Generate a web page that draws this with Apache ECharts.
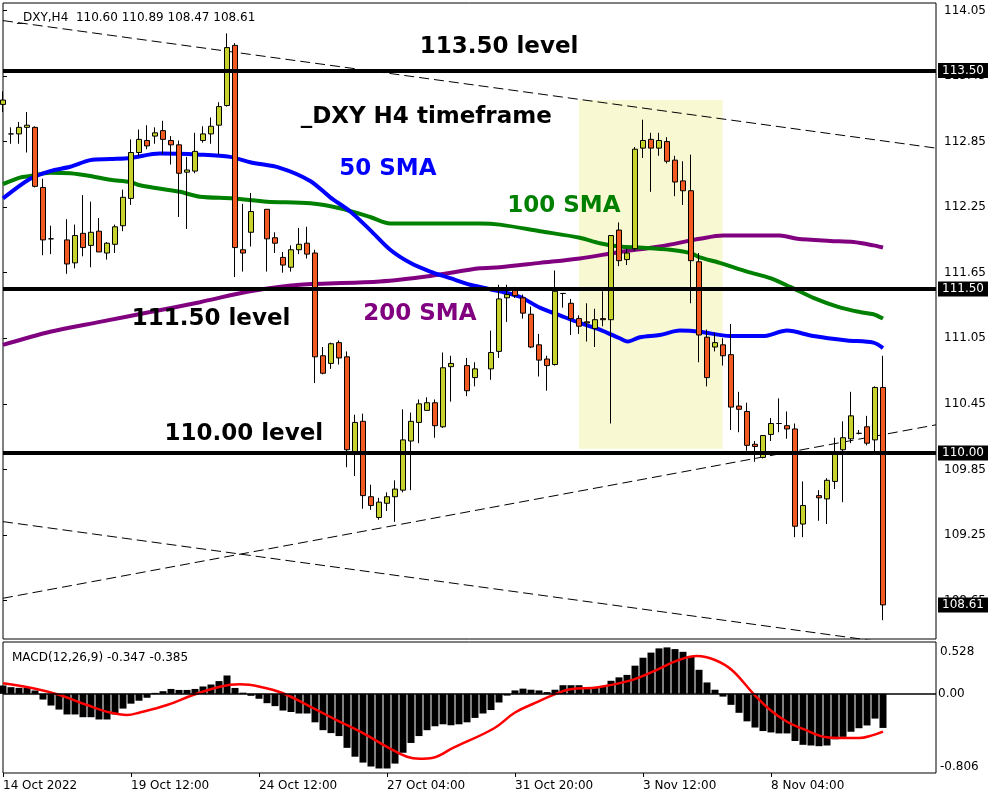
<!DOCTYPE html>
<html><head><meta charset="utf-8">
<script src="https://cdn.jsdelivr.net/npm/echarts/dist/echarts.min.js"></script>
<style>html,body{margin:0;padding:0;background:#fff}#c{width:1000px;height:800px}</style>
</head><body><div id="c"></div>
<script>
// ---- DATA ----
// H4 bars: [open, high, low, close]; null = no bar drawn at that slot
const ohlc = [
[113.19,113.31,113.12,113.23],[112.92,112.98,112.83,112.92],[112.92,113.03,112.83,112.98],[112.98,113.12,112.75,113.00],
[112.98,112.99,112.43,112.44],[112.43,112.51,111.81,111.95],[111.96,112.08,111.82,111.96],null,
[111.95,112.14,111.64,111.73],[111.74,112.09,111.69,111.99],[112.01,112.36,111.80,111.88],[111.90,112.30,111.70,112.02],
[112.03,112.15,111.84,111.84],[111.83,111.93,111.77,111.92],[111.91,112.09,111.83,112.07],[112.08,112.41,112.03,112.34],
[112.33,112.87,112.27,112.75],[112.75,112.96,112.72,112.87],[112.86,113.00,112.78,112.81],[112.90,112.98,112.83,112.93],
[112.95,113.04,112.74,112.87],[112.86,112.90,112.64,112.82],[112.82,112.86,112.16,112.56],[112.57,112.71,112.05,112.59],
[112.58,112.93,112.56,112.76],[112.86,112.99,112.84,112.92],[112.92,113.07,112.83,112.99],[113.00,113.21,112.73,113.17],
[113.18,113.84,113.17,113.71],[113.73,113.75,111.61,111.88],[111.86,112.28,111.66,111.83],[112.02,112.38,111.89,112.21],
null,[112.23,112.23,111.66,111.96],[111.97,112.02,111.83,111.92],[111.79,111.84,111.65,111.72],
[111.70,111.90,111.66,111.86],[111.86,112.06,111.82,111.91],[111.92,112.07,111.78,111.82],[111.83,111.86,110.64,110.88],
[110.89,110.97,110.72,110.73],[110.82,111.01,110.77,111.00],[111.01,111.03,110.81,110.87],[110.88,110.93,109.87,110.03],
[110.01,110.35,109.79,110.28],[110.29,110.36,109.49,109.61],[109.60,109.71,109.48,109.52],[109.41,109.59,109.39,109.55],
[109.54,109.64,109.47,109.60],[109.60,109.75,109.37,109.67],[109.66,110.40,109.64,110.12],[110.11,110.37,109.66,110.29],
[110.28,110.49,110.09,110.45],[110.39,110.51,110.39,110.46],[110.46,110.49,110.14,110.25],[110.24,110.92,110.23,110.78],
[110.79,110.89,110.47,110.82],null,[110.80,110.87,110.52,110.57],[110.69,110.83,110.61,110.77],
null,[110.77,111.12,110.67,110.92],[110.93,111.54,110.87,111.41],[111.42,111.54,111.20,111.45],
[111.49,111.52,111.42,111.44],[111.42,111.45,111.23,111.28],[111.27,111.34,110.96,110.97],[110.99,111.09,110.70,110.85],
[110.86,110.89,110.57,110.80],[110.81,111.67,110.80,111.48],[111.46,111.46,111.33,111.46],[111.37,111.41,111.08,111.23],
[111.23,111.26,111.09,111.16],[111.20,111.37,111.02,111.19],[111.14,111.32,110.97,111.22],[111.23,111.48,111.16,111.22],
[111.22,111.99,110.27,111.99],[112.04,112.11,111.71,111.76],[111.77,111.87,111.72,111.83],[111.87,112.80,111.85,112.78],
[112.79,113.05,112.70,112.86],[112.87,112.93,112.39,112.79],[112.79,112.93,112.72,112.86],[112.85,112.89,112.65,112.67],
[112.68,112.72,112.35,112.48],[112.49,112.67,112.27,112.40],[112.40,112.73,111.37,111.76],[111.75,111.83,110.83,111.08],
[111.06,111.13,110.61,110.69],[110.97,111.10,110.93,111.01],[110.99,111.05,110.80,110.89],[110.90,111.18,110.21,110.42],
[110.43,110.56,110.19,110.40],[110.38,110.46,110.02,110.07],[110.08,110.11,109.92,110.06],[109.96,110.16,109.95,110.16],
[110.17,110.32,110.11,110.27],[110.27,110.50,110.19,110.27],[110.25,110.38,110.13,110.22],[110.22,110.27,109.23,109.33],
[109.35,109.74,109.23,109.52],null,[109.61,109.66,109.38,109.59],[109.58,109.77,109.35,109.75],
[109.74,110.14,109.67,109.99],[110.03,110.29,109.55,110.14],[110.13,110.56,110.09,110.34],[110.18,110.21,110.17,110.18],
[110.24,110.34,110.07,110.09],[110.12,110.61,109.99,110.60],[110.60,110.89,108.47,108.61]
];
// moving averages: [bar index, value]
const sma50 = [[0,112.33],[3.4,112.51],[5.9,112.58],[8.4,112.62],[10.9,112.68],[13.4,112.69],[15.9,112.70],[19.6,112.74],[24.6,112.73],[28.4,112.71],[30.9,112.66],[34.6,112.61],[38.4,112.49],[40.9,112.34],[43.4,112.21],[45.9,112.04],[48.4,111.86],[50.9,111.74],[53.4,111.66],[55.9,111.60],[58.4,111.54],[62.1,111.48],[64.6,111.43],[67.1,111.33],[69.6,111.26],[72.1,111.19],[74.6,111.13],[77.1,111.05],[78.1,111.02],[79.6,111.06],[82.1,111.08],[84.6,111.12],[87.1,111.11],[90.9,111.07],[95,111.07],[98,111.12],[101.3,111.07],[105.5,111.03],[108.8,111.01],[110,110.96]];
const sma100 = [[0,112.46],[2.1,112.52],[3.4,112.535],[5.9,112.565],[8.4,112.56],[10.9,112.535],[13.4,112.50],[15.9,112.48],[17.1,112.45],[22.1,112.39],[24.6,112.345],[28.8,112.33],[33,112.30],[38.4,112.285],[42.1,112.24],[45.9,112.16],[48.4,112.10],[53.4,112.10],[59.6,112.10],[62.1,112.09],[67.1,112.03],[72.1,111.97],[74.6,111.92],[77.1,111.89],[79.6,111.88],[83.4,111.86],[85.9,111.83],[87.1,111.79],[89.6,111.74],[93,111.66],[95.9,111.60],[98.4,111.52],[101.3,111.42],[104.3,111.34],[107.1,111.29],[108.8,111.27],[110,111.23]];
const sma200 = [[0,110.99],[5.9,111.11],[12.1,111.20],[18.4,111.29],[24.6,111.38],[30.9,111.48],[37.1,111.54],[47.1,111.57],[53.4,111.62],[59.6,111.69],[62.1,111.70],[67.1,111.74],[72.1,111.78],[77.1,111.84],[82.1,111.89],[87.1,111.96],[90,111.99],[97.1,111.99],[99.3,111.96],[103.4,111.94],[106.3,111.93],[108.8,111.90],[110,111.88]];
// dashed trend lines: [bar index, price] end points
const trendUpper = [[0,113.957],[116.625,112.79]];
const trendRising = [[0,108.671],[116.625,110.258]];
const trendLower = [[0,109.372],[116.625,108.204]];
const levels = [113.50, 111.50, 110.00];
const lastPrice = 108.61;
const highlightBox = [[72, 113.23], [89.96, 110.04]];
// annotations: [bar index, price, text]
const notes = [[62,113.715,'113.50 level'],[52.9,113.075,'_DXY H4 timeframe'],[48.1,112.60,'50 SMA'],[70.1,112.26,'100 SMA'],[26,111.226,'111.50 level'],[52.1,111.272,'200 SMA'],[30.1,110.174,'110.00 level']];
// MACD histogram per bar
const macd = [0.085,0.068,0.061,0.061,0.034,-0.058,-0.119,-0.16,-0.21,-0.21,-0.238,-0.238,-0.261,-0.261,-0.21,-0.15,-0.10,-0.07,-0.04,0.01,
0.027,0.05,0.04,0.04,0.05,0.075,0.095,0.13,0.187,0.06,0.012,-0.02,-0.05,-0.095,-0.125,-0.17,-0.185,-0.2,-0.2,-0.29,
-0.37,-0.40,-0.43,-0.55,-0.64,-0.70,-0.74,-0.76,-0.76,-0.71,-0.60,-0.50,-0.43,-0.37,-0.33,-0.31,-0.32,-0.31,-0.29,-0.245,
-0.20,-0.165,-0.088,-0.018,0.035,0.053,0.042,0.035,0.018,0.042,0.088,0.088,0.088,0.07,0.07,0.08,0.133,0.168,0.193,0.287,
0.368,0.42,0.463,0.473,0.456,0.428,0.386,0.245,0.116,0.042,-0.028,-0.112,-0.193,-0.28,-0.343,-0.379,-0.393,-0.403,-0.403,-0.48,
-0.519,-0.526,-0.533,-0.526,-0.463,-0.438,-0.386,-0.35,-0.322,-0.252,-0.347];
// MACD signal line: [bar index, value]
const signal = [[0,0.107],[3.75,0.057],[7.1,-0.012],[10.5,-0.114],[13.4,-0.19],[15.5,-0.215],[17.1,-0.19],[20.5,-0.114],[23.75,-0.012],[27.1,0.073],[29.6,0.097],[32.1,0.073],[35,0.006],[38.4,-0.13],[41.75,-0.27],[45,-0.40],[48,-0.54],[50.5,-0.64],[52.1,-0.66],[53.75,-0.65],[56.25,-0.55],[61.4,-0.35],[64,-0.19],[66.6,-0.09],[69.1,0.0],[70.9,0.046],[74.4,0.067],[78.6,0.14],[81.25,0.226],[84.25,0.338],[86.75,0.385],[89,0.345],[91.1,0.243],[93.75,0.006],[95.9,-0.164],[98,-0.284],[100.1,-0.36],[102.75,-0.44],[104.5,-0.45],[107,-0.45],[108.75,-0.42],[110,-0.385]];
const macdMax = 0.528, macdMin = -0.806, macdZero = 0.00;
const timeLabels = ['14 Oct 2022','19 Oct 12:00','24 Oct 12:00','27 Oct 04:00','31 Oct 20:00','3 Nov 12:00','8 Nov 04:00'];
const headerText = '_DXY,H4  110.60 110.89 108.47 108.61';
const macdText = 'MACD(12,26,9) -0.347 -0.385';

// ---- CHART ----
const FONT = 'DejaVu Sans';
const noteColors = {'50 SMA':'#0000ff','100 SMA':'#008000','200 SMA':'#800080'};
const candleData = [];
ohlc.forEach((d, i) => { if (d) candleData.push([i, d[0], d[3], d[2], d[1]]); });
const slots = 117, step = 16;
const xCats = Array.from({length: slots}, (_, i) => (i % step === 0 && i / step < timeLabels.length) ? timeLabels[i / step] : '');
const showTick = (i, v) => v !== '';
const boxLabel = {show: true, position: 'end', distance: 2, color: '#fff', backgroundColor: '#000', padding: [2, 4, 1, 4], fontSize: 12, fontFamily: FONT, opacity: 1};
const plainStyle = {color: '#000', fontSize: 12, fontFamily: FONT};

const chart = echarts.init(document.getElementById('c'), null, {renderer: 'canvas'});
chart.setOption({
  animation: false,
  backgroundColor: '#fff',
  textStyle: {fontFamily: FONT},
  title: [
    {text: headerText, left: 12, top: 7, textStyle: {fontSize: 12, fontWeight: 'normal', color: '#000', fontFamily: FONT}},
    {text: macdText, left: 7, top: 647, textStyle: {fontSize: 12, fontWeight: 'normal', color: '#000', fontFamily: FONT}}
  ],
  grid: [
    {left: 3, top: 3, width: 933, height: 636, show: true, borderColor: '#000', borderWidth: 1, outerBoundsMode: 'none'},
    {left: 3, top: 10.39, width: 933, height: 590.2, outerBoundsMode: 'none'},
    {left: 3, top: 642, width: 933, height: 131, show: true, borderColor: '#000', borderWidth: 1, outerBoundsMode: 'none'},
    {left: 3, top: 642, width: 928, height: 131, outerBoundsMode: 'none'}
  ],
  xAxis: [
    {gridIndex: 0, type: 'value', min: 0, max: 116.625, show: false},
    {gridIndex: 1, type: 'value', min: 0, max: 1, show: false},
    {gridIndex: 2, type: 'value', min: 0, max: 116.625, show: false},
    {gridIndex: 3, type: 'category', data: xCats, boundaryGap: false,
     axisLine: {show: false},
     axisTick: {show: true, length: 4, interval: showTick, lineStyle: {color: '#000'}},
     axisLabel: {interval: showTick, align: 'left', color: '#000', fontSize: 12, fontFamily: FONT, margin: 7},
     splitLine: {show: false}}
  ],
  yAxis: [
    {gridIndex: 0, type: 'value', min: 108.298, max: 114.118, show: false},
    {gridIndex: 1, type: 'value', position: 'right', min: 108.65, max: 114.05, interval: 0.6,
     axisLine: {show: false}, axisTick: {show: true, length: 4, lineStyle: {color: '#000'}},
     axisLabel: {color: '#000', fontSize: 12, fontFamily: FONT, margin: 8, formatter: v => v.toFixed(2)},
     splitLine: {show: false}},
    {gridIndex: 2, type: 'value', min: macdMin, max: macdMax, position: 'right',
     axisLine: {show: false}, axisTick: {show: false}, splitLine: {show: false},
     axisLabel: {show: true, showMinLabel: true, showMaxLabel: true, margin: 4, color: '#000', fontSize: 12, fontFamily: FONT,
       customValues: [macdMin, macdMax], padding: [4, 0, 0, 0],
       formatter: v => (Math.abs(v - macdMax) < 1e-6 ? macdMax.toFixed(3) : (Math.abs(v - macdMin) < 1e-6 ? macdMin.toFixed(3) : '')),
       verticalAlignMinLabel: 'bottom', verticalAlignMaxLabel: 'top'}},
    {gridIndex: 3, type: 'value', show: false}
  ],
  series: [
    {type: 'line', xAxisIndex: 0, yAxisIndex: 0, data: trendUpper, symbol: 'none', z: 2,
     lineStyle: {color: '#000', width: 1, type: [10, 5]},
     markArea: {silent: true, itemStyle: {color: '#f8f8d2', opacity: 1}, data: [[{coord: highlightBox[0]}, {coord: highlightBox[1]}]]}},
    {type: 'line', xAxisIndex: 0, yAxisIndex: 0, data: trendRising, symbol: 'none', z: 2, lineStyle: {color: '#000', width: 1, type: [10, 5]}},
    {type: 'line', xAxisIndex: 0, yAxisIndex: 0, data: trendLower, symbol: 'none', z: 2, lineStyle: {color: '#000', width: 1, type: [10, 5]}},
    {type: 'line', xAxisIndex: 0, yAxisIndex: 0, data: sma200, symbol: 'none', smooth: 0.3, z: 2, lineStyle: {color: '#800080', width: 4}},
    {type: 'line', xAxisIndex: 0, yAxisIndex: 0, data: sma100, symbol: 'none', smooth: 0.3, z: 2, lineStyle: {color: '#008000', width: 4}},
    {type: 'line', xAxisIndex: 0, yAxisIndex: 0, data: sma50, symbol: 'none', smooth: 0.3, z: 2, lineStyle: {color: '#0000ff', width: 4}},
    {type: 'candlestick', xAxisIndex: 0, yAxisIndex: 0, data: candleData, encode: {x: 0, y: [1, 2, 3, 4]}, barWidth: 5, z: 3,
     itemStyle: {color: '#c6d32d', color0: '#f25a22', borderColor: '#000', borderColor0: '#000', borderWidth: 1},
     markLine: {silent: true, symbol: 'none', animation: false,
       data: levels.map(v => ({yAxis: v, lineStyle: {color: '#000', width: 4, type: 'solid'}, label: Object.assign({}, boxLabel, {formatter: v.toFixed(2)})}))
         .concat([{yAxis: lastPrice, lineStyle: {color: 'rgba(0,0,0,0)', width: 1}, label: Object.assign({}, boxLabel, {formatter: lastPrice.toFixed(2)})}])}},
    {type: 'scatter', xAxisIndex: 0, yAxisIndex: 0, symbolSize: 0, silent: true, z: 6, itemStyle: {opacity: 1},
     data: notes.map(n => ({value: [n[0], n[1]], label: {show: true, position: 'inside', formatter: n[2], color: noteColors[n[2]] || '#000', opacity: 1, fontSize: 23, fontWeight: 'bold', fontFamily: FONT}}))},
    {type: 'bar', xAxisIndex: 2, yAxisIndex: 2, data: macd.map((v, i) => [i, v]), barWidth: 7, itemStyle: {color: '#000'}, z: 2,
     markLine: {silent: true, symbol: 'none', animation: false,
       data: [
         {yAxis: macdZero, lineStyle: {color: '#000', width: 1.5, type: 'solid'}, label: Object.assign({show: true, position: 'end', distance: 2, formatter: macdZero.toFixed(2)}, plainStyle)}
       ]}},
    {type: 'line', xAxisIndex: 2, yAxisIndex: 2, data: signal, symbol: 'none', smooth: 0.4, z: 3, lineStyle: {color: '#ff0000', width: 2.5}}
  ]
});
</script></body></html>
